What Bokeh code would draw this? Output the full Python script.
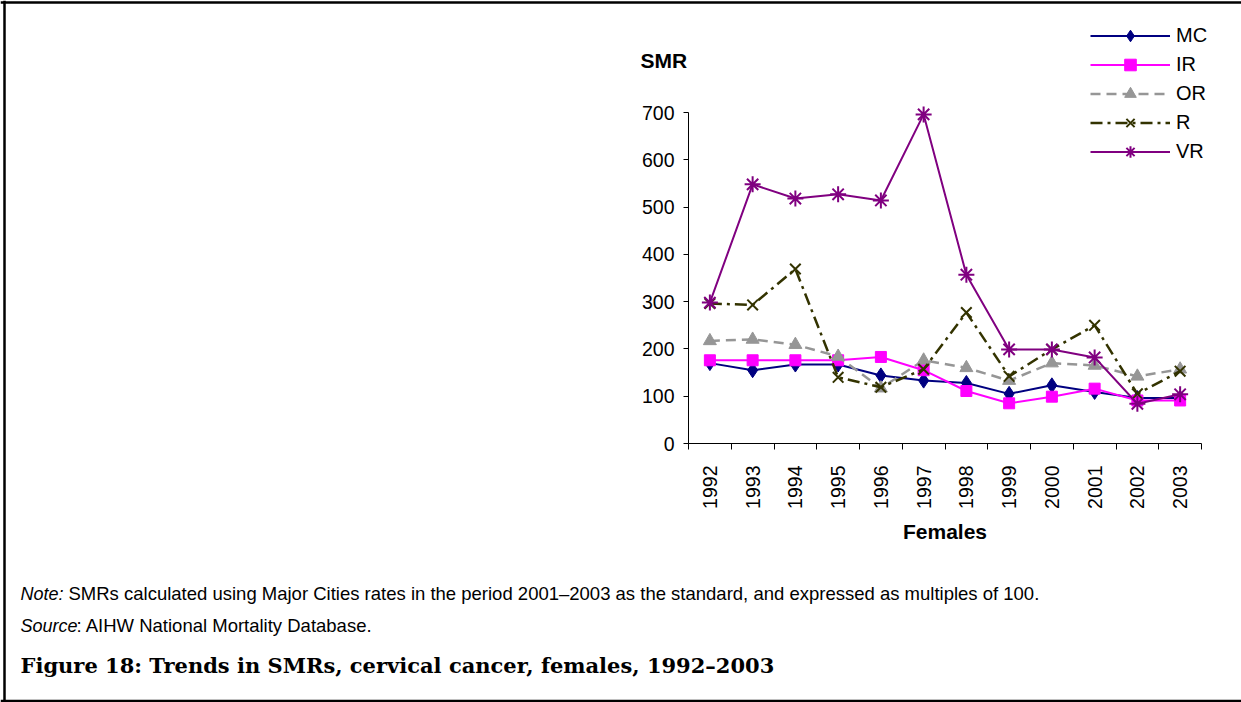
import numpy as np
from bokeh.plotting import figure
from bokeh.models import (Range1d, FixedTicker, Label, Legend, LegendItem, Span)
from bokeh.embed import file_html
from bokeh.resources import INLINE

# ---- data ----
years = ["1992", "1993", "1994", "1995", "1996", "1997",
         "1998", "1999", "2000", "2001", "2002", "2003"]
mc = [170, 155, 167, 167, 144, 133, 128, 105, 123, 109, 96, 96]
ir = [176, 176, 176, 176, 183, 155, 111, 85, 99, 116, 91, 91]
orr = [217, 220, 209, 184, 117, 176, 160, 133, 170, 165, 142, 157]
r = [296, 293, 369, 140, 119, 157, 277, 142, 199, 250, 105, 153]
vr = [298, 548, 518, 527, 514, 696, 357, 199, 199, 182, 84, 104]
y_ticks = [0, 100, 200, 300, 400, 500, 600, 700]
y_max = 700

FONT = "Liberation Sans"
W, H = 1241, 702
# plot-area position inside the canvas (pixels)
FL, FR, FT, FB = 688, 1201, 112, 443

n = len(years)
x = list(range(n))
pxx = (FR - FL) / n
pxy = (FB - FT) / y_max
x_range = Range1d(-0.5 - FL / pxx, n - 0.5 + (W - FR) / pxx)
y_range = Range1d(-(H - FB) / pxy, y_max + FT / pxy)

p = figure(width=W, height=H, output_backend="svg", toolbar_location=None,
           x_range=x_range, y_range=y_range, min_border=0)
p.title.visible = False
p.xgrid.visible = False
p.ygrid.visible = False
p.outline_line_color = None
p.background_fill_color = "white"
p.border_fill_color = "white"

# y axis
ya = p.yaxis[0]
ya.fixed_location = -0.5
ya.bounds = (0, y_max)
ya.ticker = FixedTicker(ticks=y_ticks)
ya.major_tick_in = 0
ya.major_tick_out = 5
ya.minor_tick_line_color = None
ya.axis_line_color = "black"
ya.major_tick_line_color = "black"
ya.major_label_text_font = FONT
ya.major_label_text_font_size = "19.5px"
ya.major_label_text_color = "black"
ya.major_label_standoff = 9

# x axis
xa = p.xaxis[0]
xa.fixed_location = 0
xa.bounds = (-0.5, n - 0.5)
xa.ticker = FixedTicker(ticks=x, minor_ticks=[i - 0.5 for i in range(n + 1)])
xa.major_label_overrides = {i: yv for i, yv in enumerate(years)}
xa.major_tick_in = 0
xa.major_tick_out = 0
xa.minor_tick_in = 0
xa.minor_tick_out = 6
xa.minor_tick_line_color = "black"
xa.axis_line_color = "black"
xa.major_label_orientation = np.pi / 2
xa.major_label_text_font = FONT
xa.major_label_text_font_size = "19.5px"
xa.major_label_text_color = "black"
xa.major_label_standoff = 16
xa.axis_label = "Females"
xa.axis_label_text_font = FONT
xa.axis_label_text_font_style = "bold"
xa.axis_label_text_font_size = "21px"
xa.axis_label_text_color = "black"
xa.axis_label_standoff = 8

series = [
    ("MC", mc, "#000080", "solid", 2, "diamond", 15, "#000080"),
    ("IR", ir, "#FF00FF", "solid", 2, "square", 11, "#FF00FF"),
    ("OR", orr, "#969696", "10 6", 2.5, "triangle", 13, "#969696"),
    ("R", r, "#333300", "12 5 3 5", 2.5, "x", 15, "#333300"),
    ("VR", vr, "#800080", "solid", 2, "asterisk", 16, "#800080"),
]

items = []
for name, vals, col, dash, lw, mk, ms, mcol in series:
    lr = p.line(x, vals, line_color=col, line_width=lw, line_dash=dash)
    if mk in ("x", "asterisk"):
        sr = p.scatter(x, vals, marker=mk, size=ms, line_color=mcol, line_width=2)
    else:
        sr = p.scatter(x, vals, marker=mk, size=ms, fill_color=mcol, line_color=mcol)
    items.append(LegendItem(label=name, renderers=[lr, sr]))

legend = Legend(items=items, location=(1090, H - 165.5), glyph_width=80,
                glyph_height=29, label_height=23, spacing=0, padding=0, margin=0,
                border_line_color=None, background_fill_alpha=0,
                label_text_font=FONT, label_text_font_size="20px",
                label_text_color="black", label_standoff=6)
p.add_layout(legend, "center")

def lab(xx, yy, text, size="18px", style="normal", font=FONT):
    p.add_layout(Label(x=xx, y=H - yy, x_units="screen", y_units="screen", text=text,
                       text_font=font, text_font_size=size, text_font_style=style,
                       text_baseline="middle", text_color="black"))

lab(640, 60, "SMR", size="21px", style="bold")
lab(20, 593, "Note:", style="italic")
lab(68, 593, "SMRs calculated using Major Cities rates in the period 2001\u20132003 as the standard, and expressed as multiples of 100.", size="18.5px")
lab(20, 625, "Source", style="italic")
lab(76, 625, ": AIHW National Mortality Database.", size="18.5px")
lab(20, 665, "Figure 18: Trends in SMRs, cervical cancer, females, 1992\u20132003",
    size="21px", style="bold", font="DejaVu Serif")

# page frame (left, top, bottom rules)
for loc, dim in ((4, "height"), (H - 2, "width"), (1.5, "width")):
    p.add_layout(Span(location=loc, location_units="screen", dimension=dim,
                      line_color="black", line_width=2.5))

open("out.html", "w").write(file_html(p, INLINE))
